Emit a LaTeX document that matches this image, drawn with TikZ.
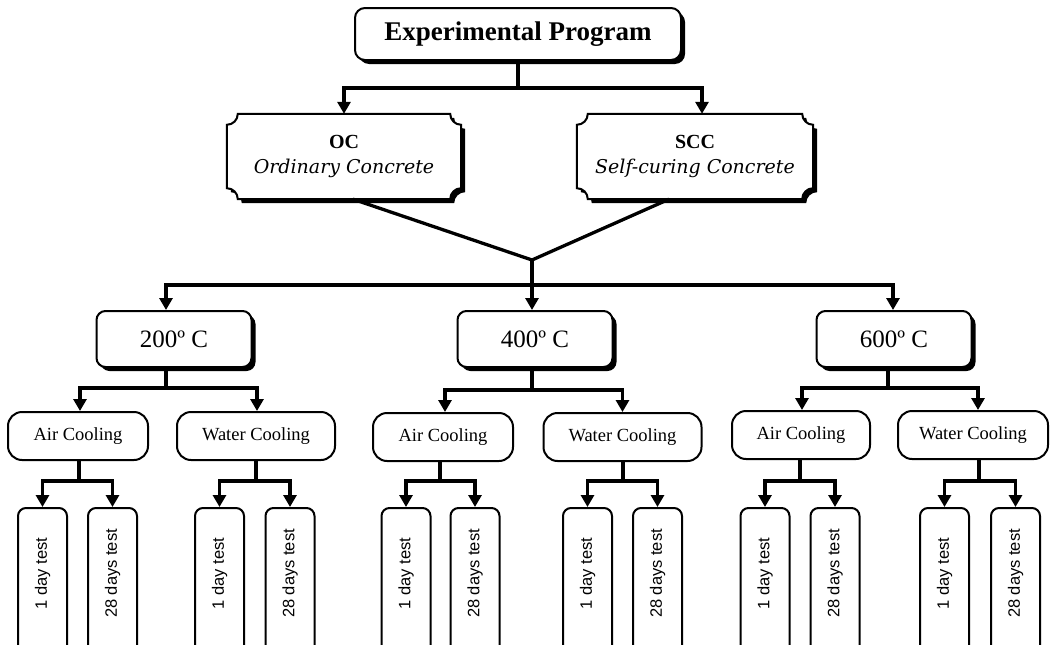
\documentclass[tikz,border=0pt]{standalone}
\usepackage{fontspec}
\setmainfont{Liberation Serif}
\newfontfamily\ocfont{DejaVu Serif}
\newfontfamily\testfont{Liberation Sans}
\usetikzlibrary{arrows.meta,shadows,calc}
\pgfdeclarelayer{bg}
\pgfdeclarelayer{paper}
\pgfsetlayers{paper,bg,main}
\newcommand\plaque[4]{%
 \path[#4] ([xshift=#2+11pt,yshift=#3]#1.north west) -- ([xshift=#2-11pt,yshift=#3]#1.north east)
  arc[start angle=180,end angle=270,radius=11pt] -- ([xshift=#2,yshift=#3+11pt]#1.south east)
  arc[start angle=90,end angle=180,radius=11pt] -- ([xshift=#2+11pt,yshift=#3]#1.south west)
  arc[start angle=0,end angle=90,radius=11pt] -- ([xshift=#2,yshift=#3-11pt]#1.north west)
  arc[start angle=270,end angle=360,radius=11pt] -- cycle;}
\begin{document}
\begin{tikzpicture}[x=1pt,y=-1pt,
  box/.style={draw,fill=white,line width=2pt,rounded corners=9pt,align=center,inner sep=0pt},
  shad/.style={drop shadow={shadow xshift=4pt,shadow yshift=-4pt,opacity=1,fill=black}},
  topbox/.style={box,shad,rounded corners=10pt,minimum width=326pt,minimum height=52pt,font=\bfseries\fontsize{27}{32}\selectfont},
  plaquebox/.style={align=center,inner sep=0pt,minimum width=234pt,minimum height=85pt,font=\fontsize{20}{25}\selectfont},
  tempbox/.style={box,shad,minimum width=155pt,minimum height=56pt,font=\fontsize{25}{30}\selectfont},
  coolbox/.style={box,rounded corners=14pt,minimum height=48pt,font=\fontsize{18.5}{22}\selectfont},
  testbox/.style={box,rounded corners=8pt,minimum width=49pt,minimum height=147pt,font=\testfont\fontsize{16.5}{19}\selectfont},
  tip/.tip={Triangle[length=12pt,width=13pt]},
  lineconn/.style={line width=3.3pt},
  conn/.style={lineconn,-tip},
  conn2/.style={lineconn,tip-tip}]
\useasboundingbox (0,0) rectangle (1050,645);
\clip (0,0) rectangle (1050,645);
\begin{pgfonlayer}{paper}
\fill[white] (0,0) rectangle (1050,645);
\end{pgfonlayer}

% top
\node[topbox] (top) at (518,34) {Experimental Program};
\node[plaquebox] (oc) at (344,156.5) {\bfseries OC\\{\ocfont\itshape\fontsize{19}{25}\selectfont Ordinary Concrete}};
\node[plaquebox,minimum width=236pt] (scc) at (695,156.5) {\bfseries SCC\\{\ocfont\itshape\fontsize{19}{25}\selectfont Self-curing Concrete}};
\begin{pgfonlayer}{bg}
 \plaque{oc}{4pt}{-4pt}{fill=black}
 \plaque{oc}{0pt}{0pt}{fill=white,draw=black,line width=2pt}
 \plaque{scc}{4pt}{-4pt}{fill=black}
 \plaque{scc}{0pt}{0pt}{fill=white,draw=black,line width=2pt}
\end{pgfonlayer}

% temperatures
\node[tempbox] (t200) at (174,339) {200º C};
\node[tempbox] (t400) at (535,339) {400º C};
\node[tempbox] (t600) at (894,339) {600º C};

% cooling
\node[coolbox,minimum width=140pt] (a200) at (78,436) {Air Cooling};
\node[coolbox,minimum width=158pt] (w200) at (256,436) {Water Cooling};
\node[coolbox,minimum width=140pt] (a400) at (443,437) {Air Cooling};
\node[coolbox,minimum width=158pt] (w400) at (622.5,437) {Water Cooling};
\node[coolbox,minimum width=138pt] (a600) at (801,435) {Air Cooling};
\node[coolbox,minimum width=150pt] (w600) at (973,435) {Water Cooling};

% tests
\foreach \n/\x/\t in {d1/42.5/1 day test, d2/112.5/28 days test, d3/219.5/1 day test, d4/290/28 days test,
  d5/406/1 day test, d6/475/28 days test, d7/587.5/1 day test, d8/657.5/28 days test,
  d9/765/1 day test, d10/835/28 days test, d11/944.5/1 day test, d12/1015.5/28 days test}{
  \node[testbox] (\n) at (\x,581.5) {\rotatebox{90}{\hspace*{16pt}\t}};
}

% level 1 connectors
\coordinate (j0) at (518,88);
\draw[lineconn] (top.south) -- (j0);
\draw[conn2] (oc.north) |- (j0) -| ([xshift=7pt]scc.north);

% converging lines
\coordinate (cv) at (532,260);
\coordinate (j1) at (532,285);
\draw[lineconn] ([xshift=9pt]oc.south) -- (cv) -- ([xshift=-26pt]scc.south);
\draw[conn] (cv) -- ([xshift=-3pt]t400.north);
\draw[conn2] ([xshift=-8pt]t200.north) |- (j1) -| ([xshift=-1pt]t600.north);

% temperature to cooling
\coordinate (j200) at (166,388);
\coordinate (j400) at (532,390);
\coordinate (j600) at (888,388);
\draw[lineconn] ([xshift=-8pt]t200.south) -- (j200);
\draw[conn2] ([xshift=2pt]a200.north) |- (j200) -| ([xshift=1pt]w200.north);
\draw[lineconn] ([xshift=-3pt]t400.south) -- (j400);
\draw[conn2] ([xshift=2pt]a400.north) |- (j400) -| (w400.north);
\draw[lineconn] ([xshift=-6pt]t600.south) -- (j600);
\draw[conn2] ([xshift=1pt]a600.north) |- (j600) -| ([xshift=5pt]w600.north);

% cooling to tests
\foreach \c/\p/\q/\dx in {a200/d1/d2/1pt, w200/d3/d4/0pt, a400/d5/d6/-3pt, w400/d7/d8/0.5pt, a600/d9/d10/-1pt, w600/d11/d12/6pt}{
  \coordinate (k\c) at ([xshift=\dx]\c.south |- 0,481);
  \draw[lineconn] ([xshift=\dx]\c.south) -- (k\c);
  \draw[conn2] (\p.north) |- (k\c) -| (\q.north);
}
\end{tikzpicture}
\end{document}
